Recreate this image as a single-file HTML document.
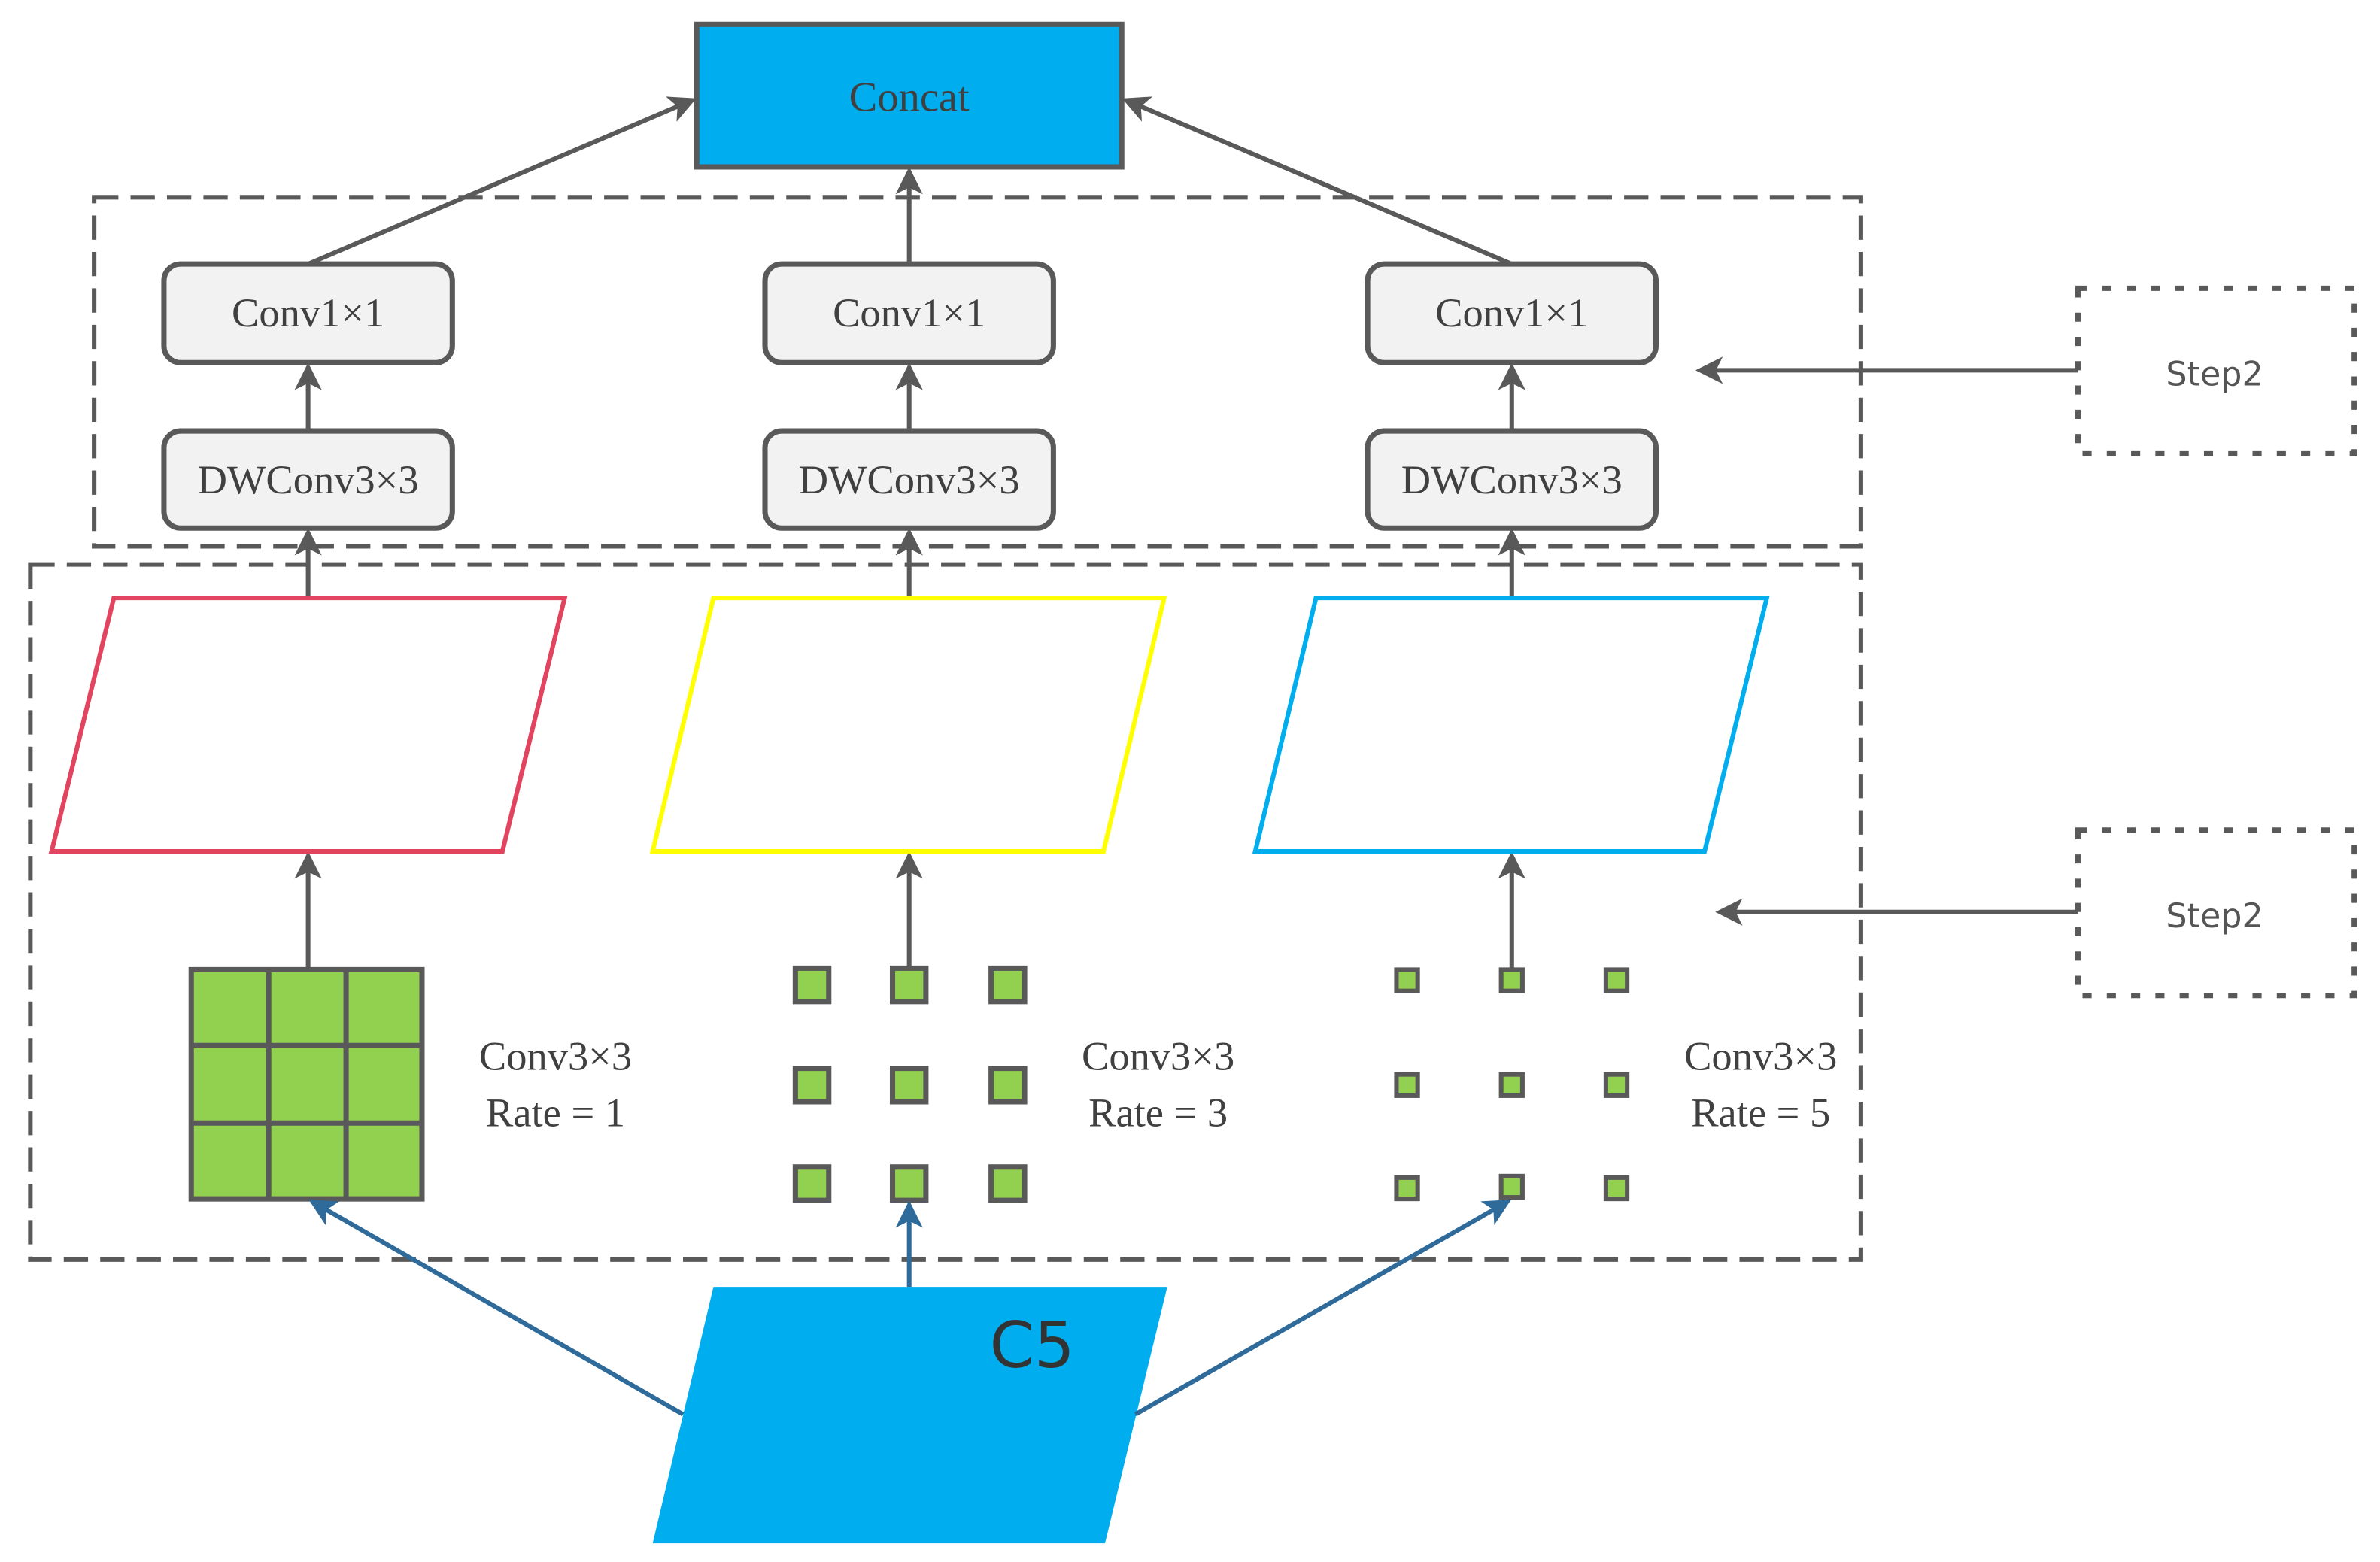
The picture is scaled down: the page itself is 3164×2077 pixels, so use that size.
<!DOCTYPE html>
<html><head><meta charset="utf-8"><style>html,body{margin:0;padding:0;background:#fff}svg{display:block}</style></head>
<body>
<svg width="3164" height="2077" viewBox="0 0 1568 1029.3" xmlns="http://www.w3.org/2000/svg">
<defs>
<marker id="ag" markerWidth="6" markerHeight="6" refX="5" refY="3" orient="auto" markerUnits="strokeWidth"><path d="M0,0 L6,3 L0,6 L1.5,3 z" fill="#595959"/></marker>
<marker id="ab" markerWidth="6" markerHeight="6" refX="5" refY="3" orient="auto" markerUnits="strokeWidth"><path d="M0,0 L6,3 L0,6 L1.5,3 z" fill="#2E6A9A"/></marker>
</defs>
<g fill="none" stroke="#595959" stroke-width="3" stroke-dasharray="16,8">
<rect x="62" y="130" width="1164" height="230"/>
<rect x="20" y="372" width="1206" height="458"/>
</g>
<g fill="none" stroke="#595959" stroke-width="3.5" stroke-dasharray="6,10">
<rect x="1369" y="190" width="182" height="109"/>
<rect x="1369" y="547" width="182" height="109"/>
</g>
<g font-family="'DejaVu Sans','Liberation Sans',sans-serif" font-size="22" fill="#555" text-anchor="middle">
<text x="1459" y="254">Step2</text>
<text x="1459" y="611">Step2</text>
</g>
<g stroke="#595959" stroke-width="3" fill="none" marker-end="url(#ag)">
<line x1="1369" y1="244" x2="1120" y2="244"/>
<line x1="1369" y1="601" x2="1133" y2="601"/>
<line x1="203" y1="174" x2="456" y2="66"/>
<line x1="996" y1="174" x2="742" y2="66"/>
<line x1="599" y1="174" x2="599" y2="113"/>
<line x1="203" y1="284" x2="203" y2="242"/>
<line x1="599" y1="284" x2="599" y2="242"/>
<line x1="996" y1="284" x2="996" y2="242"/>
<line x1="203" y1="394" x2="203" y2="351"/>
<line x1="599" y1="394" x2="599" y2="351"/>
<line x1="996" y1="394" x2="996" y2="351"/>
<line x1="203" y1="639" x2="203" y2="564"/>
<line x1="599" y1="639" x2="599" y2="564"/>
<line x1="996" y1="639" x2="996" y2="564"/>
</g>
<rect x="459" y="16" width="280" height="94" fill="#00AEEF" stroke="#595959" stroke-width="3.5"/>
<g font-family="'Liberation Serif',serif" fill="#404040" text-anchor="middle" font-size="28">
<text x="599" y="73">Concat</text>
</g>
<g fill="#F2F2F2" stroke="#595959" stroke-width="3.5">
<rect x="108" y="174" width="190" height="65" rx="11"/>
<rect x="504" y="174" width="190" height="65" rx="11"/>
<rect x="901" y="174" width="190" height="65" rx="11"/>
<rect x="108" y="284" width="190" height="64" rx="11"/>
<rect x="504" y="284" width="190" height="64" rx="11"/>
<rect x="901" y="284" width="190" height="64" rx="11"/>
</g>
<g font-family="'Liberation Serif',serif" fill="#404040" text-anchor="middle" font-size="27">
<text x="203" y="215">Conv1×1</text>
<text x="599" y="215">Conv1×1</text>
<text x="996" y="215">Conv1×1</text>
<text x="203" y="325">DWConv3×3</text>
<text x="599" y="325">DWConv3×3</text>
<text x="996" y="325">DWConv3×3</text>
</g>
<g fill="none" stroke-width="3">
<polygon points="75,394 372,394 331,561 34,561" stroke="#E2435F"/>
<polygon points="470,394 767,394 727,561 430,561" stroke="#FFFF00"/>
<polygon points="867,394 1164,394 1123,561 827,561" stroke="#00AEEF"/>
</g>
<g stroke="#595959" stroke-width="3.5" fill="#92D050">
<rect x="126" y="639" width="152" height="151"/>
<line x1="177" y1="639" x2="177" y2="790"/><line x1="228" y1="639" x2="228" y2="790"/>
<line x1="126" y1="689" x2="278" y2="689"/><line x1="126" y1="740" x2="278" y2="740"/>
<rect x="524" y="638" width="22" height="22"/><rect x="588" y="638" width="22" height="22"/><rect x="653" y="638" width="22" height="22"/>
<rect x="524" y="704" width="22" height="22"/><rect x="588" y="704" width="22" height="22"/><rect x="653" y="704" width="22" height="22"/>
<rect x="524" y="769" width="22" height="22"/><rect x="588" y="769" width="22" height="22"/><rect x="653" y="769" width="22" height="22"/>
</g>
<g stroke="#595959" stroke-width="3" fill="#92D050">
<rect x="920" y="639" width="14" height="14"/><rect x="989" y="639" width="14" height="14"/><rect x="1058" y="639" width="14" height="14"/>
<rect x="920" y="708" width="14" height="14"/><rect x="989" y="708" width="14" height="14"/><rect x="1058" y="708" width="14" height="14"/>
<rect x="920" y="776" width="14" height="14"/><rect x="989" y="775" width="14" height="14"/><rect x="1058" y="776" width="14" height="14"/>
</g>
<g font-family="'Liberation Serif',serif" fill="#404040" text-anchor="middle" font-size="27">
<text x="366" y="705">Conv3×3</text><text x="366" y="742">Rate = 1</text>
<text x="763" y="705">Conv3×3</text><text x="763" y="742">Rate = 3</text>
<text x="1160" y="705">Conv3×3</text><text x="1160" y="742">Rate = 5</text>
</g>
<polygon points="470,848 769,848 728,1017 430,1017" fill="#00AEEF"/>
<text x="680" y="901" font-family="'DejaVu Sans','Liberation Sans',sans-serif" font-size="42" fill="#333" text-anchor="middle">C5</text>
<g stroke="#2E6A9A" stroke-width="3" fill="none" marker-end="url(#ab)">
<line x1="450" y1="932" x2="206" y2="792"/>
<line x1="599" y1="848" x2="599" y2="794"/>
<line x1="748" y1="932" x2="993" y2="792"/>
</g>
</svg>
</body></html>
